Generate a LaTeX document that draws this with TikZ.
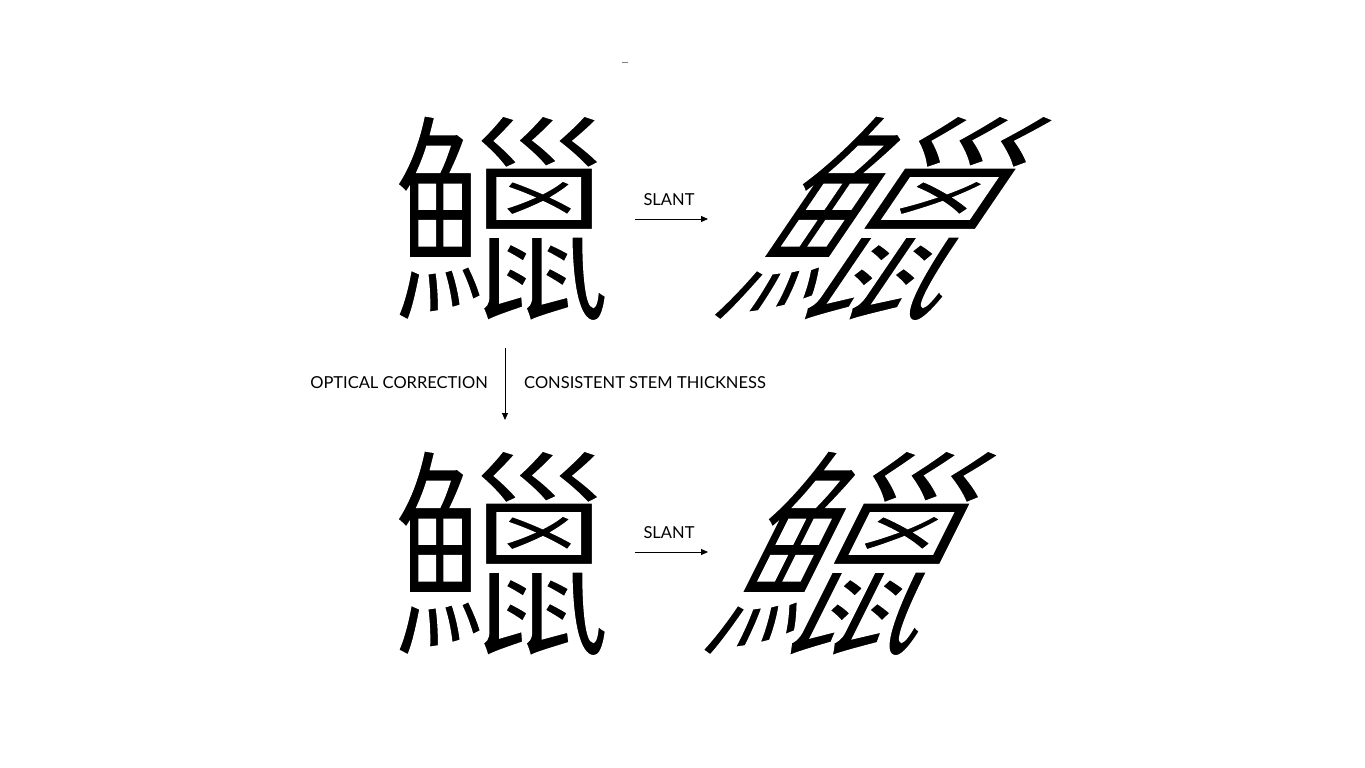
\documentclass[tikz,border=0pt]{standalone}
\usepackage{fontspec}
\setmainfont{Lato}
\newfontfamily\cjk{Noto Sans CJK SC}
\usetikzlibrary{arrows.meta}
\newcommand\thinglyph[1]{\makebox[0pt]{\smash{\raisebox{-85.5pt}{\special{pdf:literal direct 2 Tr 1 1 1 RG 3.2 w}#1\special{pdf:literal direct 0 Tr 0 0 0 RG 0.4 w}}}}}
\tikzset{
  glyph/.style={inner sep=0pt, outer sep=0pt, font=\cjk\fontsize{225}{225}\selectfont},
  lbl/.style={inner sep=0pt, font=\fontsize{16.5}{17}\selectfont},
  arr/.style={line width=0.9pt, -{Triangle[length=7pt,width=6pt]}}
}
\begin{document}
\begin{tikzpicture}[x=1pt,y=-1pt]
\useasboundingbox[fill=white] (0,0) rectangle (1365,768);
% tiny mark
\draw[gray, line width=0.8pt] (622,62) -- (628,62);
% row 1
\node[glyph] (g1) at (500,218) {\thinglyph{鱲}};
\begin{scope}[shift={(886,218)}, xslant=0.68, xscale=1.05, transform shape]
\node[glyph] (s1) at (0,0) {\thinglyph{鱲}};
\end{scope}
\node[lbl] (t1) at (669,200) {SLANT};
\coordinate (a1s) at (635,219);
\coordinate (a1e) at (708,219);
\draw[arr] (a1s) -- (a1e);
% middle
\coordinate (vs) at (505,348);
\coordinate (ve) at (505,420);
\draw[arr] (vs) -- (ve);
\node[lbl, anchor=east] (oc) at (488,383) {OPTICAL CORRECTION};
\node[lbl, anchor=west] (cs) at (524,383) {CONSISTENT STEM THICKNESS};
% row 2
\node[glyph] (g2) at (500,553) {\thinglyph{鱲}};
\begin{scope}[shift={(853,553)}, xslant=0.5, xscale=1.0, transform shape]
\node[glyph] (s2) at (0,0) {\thinglyph{鱲}};
\end{scope}
\node[lbl] (t2) at (669,533) {SLANT};
\coordinate (a2s) at (635,552);
\coordinate (a2e) at (708,552);
\draw[arr] (a2s) -- (a2e);
\end{tikzpicture}
\end{document}
